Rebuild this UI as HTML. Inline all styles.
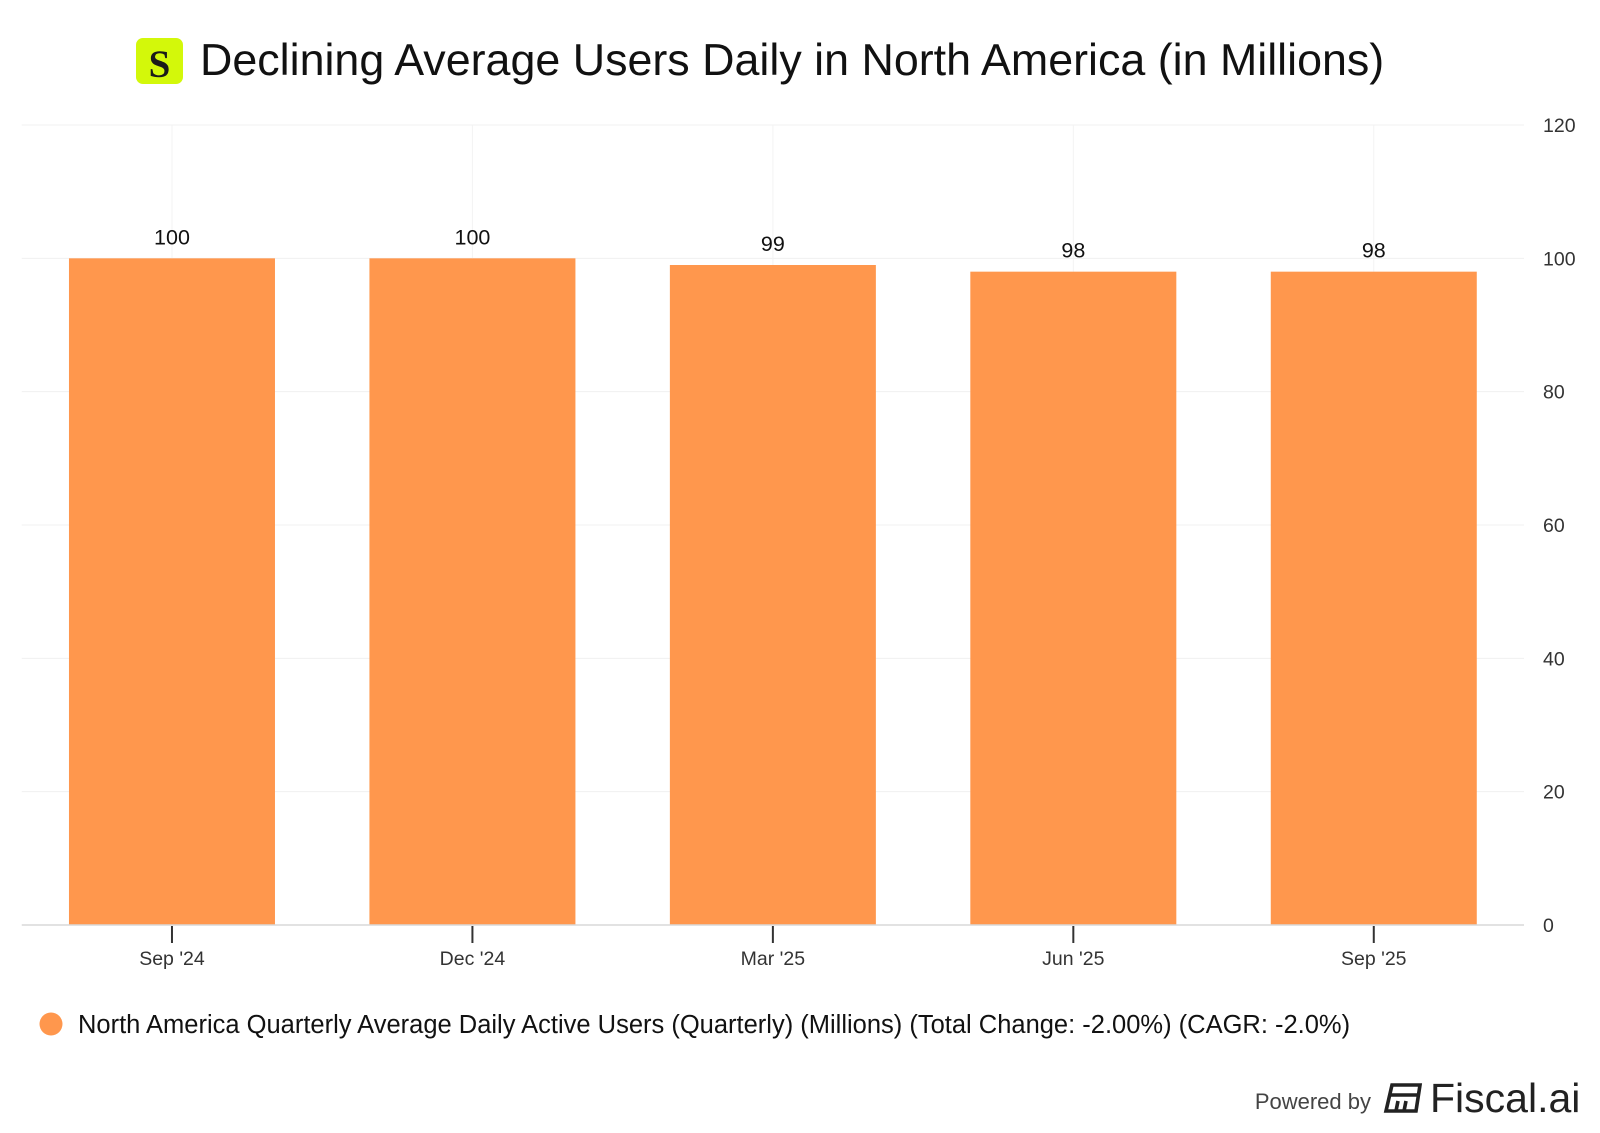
<!DOCTYPE html>
<html><head><meta charset="utf-8">
<style>
body{margin:0;background:#fff;font-family:"Liberation Sans",Arial,sans-serif;}
#wrap{position:relative;width:1600px;height:1133px;overflow:hidden;}
</style></head>
<body>
<div id="wrap">
<svg id="chart" width="1600" height="1133" xmlns="http://www.w3.org/2000/svg">
  <rect x="136" y="38" width="47" height="46" rx="7" fill="#d3f80a"/>
  <text x="159.5" y="77" text-anchor="middle" font-family="Liberation Serif,serif" font-weight="bold" font-size="39" fill="#1a1a1a">S</text>
  <text x="200" y="75" font-size="44.8" fill="#111">Declining Average Users Daily in North America (in Millions)</text>
  <g id="grid"></g>
  <g id="bars"></g>
  <g id="axes"></g>
  <circle cx="51" cy="1024" r="11.5" fill="#ff974d"/>
  <text x="78" y="1033" font-size="25.5" fill="#111">North America Quarterly Average Daily Active Users (Quarterly) (Millions) (Total Change: -2.00%) (CAGR: -2.0%)</text>
  <text x="1371" y="1109" text-anchor="end" font-size="22" fill="#444">Powered by</text>
  <g transform="translate(30,23)" fill="none" stroke="#222" stroke-width="3.6">
    <path d="M1362 1062 L1390 1062 L1386 1088 L1356 1088 Z"/>
    <path d="M1360 1072 L1388 1072 M1368 1078 L1366 1088 M1376 1078 L1374 1088"/>
  </g>
  <text x="1430" y="1112" font-size="41" fill="#222">Fiscal.ai</text>
</svg>
</div>
<script>
const categories = ["Sep '24","Dec '24","Mar '25","Jun '25","Sep '25"];
const values = [100, 100, 99, 98, 98];
const yTicks = [0, 20, 40, 60, 80, 100, 120];
const labels = ["100","100","99","98","98"];

const NS = "http://www.w3.org/2000/svg";
const plotL = 21.75, plotR = 1524, plotT = 125, plotB = 925, yMax = 120;
const band = (plotR - plotL) / categories.length;
const barW = 206;
function x(i){ return plotL + band * (i + 0.5); }
function y(v){ return plotB - (v / yMax) * (plotB - plotT); }
function mk(tag, attrs, parent){
  const e = document.createElementNS(NS, tag);
  for (const k in attrs) e.setAttribute(k, attrs[k]);
  parent.appendChild(e); return e;
}
const grid = document.getElementById('grid'), bars = document.getElementById('bars'), axes = document.getElementById('axes');
yTicks.forEach(t => {
  if (t > 0) {
    const l = mk('line', {x1: plotL, x2: plotR, y1: y(t), y2: y(t), stroke: '#f0f0f0', 'stroke-width': 1}, grid);
    
    
  }
  const tx = mk('text', {x: 1543, y: y(t) + 7, 'font-size': 19.5, fill: '#333'}, axes);
  tx.textContent = t;
  
  
});
categories.forEach((c, i) => {
  const g = mk('line', {x1: x(i), x2: x(i), y1: plotT, y2: plotB, stroke: '#f3f3f3', 'stroke-width': 1}, grid);
  
  
  const r = mk('rect', {x: x(i) - barW / 2, y: y(values[i]), width: barW, height: plotB - y(values[i]), fill: '#ff974d'}, bars);
  
  
  const v = mk('text', {x: x(i), y: y(values[i]) - 14, 'text-anchor': 'middle', 'font-size': 21.5, fill: '#111'}, bars);
  v.textContent = labels[i];
  
  
  const tk = mk('line', {x1: x(i), x2: x(i), y1: plotB + 1, y2: plotB + 18, stroke: '#333', 'stroke-width': 2}, axes);
  
  
  const lb = mk('text', {x: x(i), y: plotB + 40, 'text-anchor': 'middle', 'font-size': 19.5, fill: '#333'}, axes);
  lb.textContent = c;
  
  
});
const ax = mk('line', {x1: plotL, x2: plotR, y1: plotB, y2: plotB, stroke: '#d8d8d8', 'stroke-width': 1.5}, axes);


</script>
</body></html>
